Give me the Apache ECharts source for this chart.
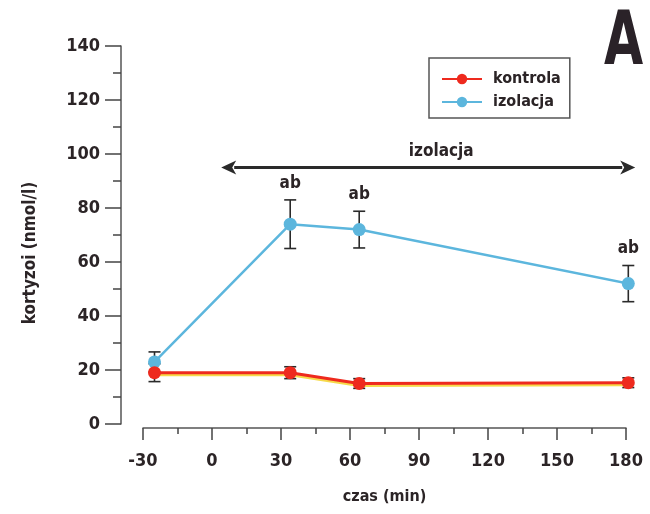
<!DOCTYPE html>
<html><head><meta charset="utf-8">
<script src="https://cdn.jsdelivr.net/npm/echarts@6/dist/echarts.min.js"></script>
<style>html,body{margin:0;padding:0;background:#fff}#c{width:650px;height:514px}</style>
</head><body><div id="c"></div>
<script>
// ---- data ----
const timeMin = [-25, 34, 64, 181];
const kontrolaMean = [19, 19, 15, 15.3];
const kontrolaErr = [3.3, 2.2, 1.8, 1.8];
const izolacjaMean = [23, 74, 72, 52];
const izolacjaErr = [3.7, 9, 6.8, 6.7];
const izolacjaSig = ['', 'ab', 'ab', 'ab'];
const xTickLabels = [-30, 0, 30, 60, 90, 120, 150, 180];
const yTickLabels = [0, 20, 40, 60, 80, 100, 120, 140];
const isolationPeriod = [4, 184];   // double arrow span (min)
const isolationArrowY = [95];
const isolationLabel = ['izolacja'];
const isolationLabelY = [101];

const FONT = "'Liberation Sans Narrow', 'DejaVu Sans Condensed', sans-serif";
const TXT = '#2b2426';
const RED = '#ee2a1e';
const BLUE = '#5cb6dd';

const chart = echarts.init(document.getElementById('c'), null, {renderer: 'canvas'});

function errPairs(mean, err) {
  return timeMin.map((t, i) => [t, mean[i] - err[i], mean[i] + err[i]]);
}
function makeErrRender(labels) {
  return function (params, api) {
    const x = api.value(0), lo = api.value(1), hi = api.value(2);
    const pLo = api.coord([x, lo]), pHi = api.coord([x, hi]);
    const w = 6;
    const st = {stroke: '#2a2a2a', lineWidth: 1.6};
    const ch = [
      {type: 'line', shape: {x1: pHi[0], y1: pHi[1], x2: pLo[0], y2: pLo[1]}, style: st},
      {type: 'line', shape: {x1: pHi[0] - w, y1: pHi[1], x2: pHi[0] + w, y2: pHi[1]}, style: st},
      {type: 'line', shape: {x1: pLo[0] - w, y1: pLo[1], x2: pLo[0] + w, y2: pLo[1]}, style: st}
    ];
    const lab = labels ? labels[params.dataIndex] : '';
    if (lab) {
      ch.push({type: 'text', x: pHi[0], y: pHi[1] - 8,
        style: {text: lab, align: 'center', verticalAlign: 'bottom',
          font: 'bold 17px ' + FONT, fill: TXT}});
    }
    return {type: 'group', children: ch};
  };
}
function arrowRender(params, api) {
  const a = api.coord([api.value(0), api.value(2)]);
  const b = api.coord([api.value(1), api.value(2)]);
  const lab = api.coord([(api.value(0) + api.value(1)) / 2, api.value(3)]);
  const hl = 15, hw = 7;
  const col = '#2a2a2a';
  return {type: 'group', children: [
    {type: 'line', shape: {x1: a[0] + hl - 2, y1: a[1], x2: b[0] - hl + 2, y2: b[1]}, style: {stroke: col, lineWidth: 3}},
    {type: 'polygon', shape: {points: [[a[0], a[1]], [a[0] + hl, a[1] - hw], [a[0] + hl - 4, a[1]], [a[0] + hl, a[1] + hw]]}, style: {fill: col}},
    {type: 'polygon', shape: {points: [[b[0], b[1]], [b[0] - hl, b[1] - hw], [b[0] - hl + 4, b[1]], [b[0] - hl, b[1] + hw]]}, style: {fill: col}},
    {type: 'text', x: lab[0] + 13, y: lab[1], style: {text: isolationLabel[params.dataIndex], align: 'center', verticalAlign: 'middle', font: 'bold 17px ' + FONT, fill: TXT}}
  ]};
}

const option = {
  backgroundColor: '#ffffff',
  animation: false,
  grid: {left: 143, right: 24, top: 46, bottom: 90},
  legend: {
    data: ['kontrola', 'izolacja'],
    orient: 'vertical',
    left: 429, top: 58,
    padding: [13, 9, 8, 12],
    borderColor: '#555', borderWidth: 1.5,
    itemWidth: 40, itemHeight: 13, itemGap: 7,
    textStyle: {fontFamily: FONT, fontWeight: 'bold', fontSize: 16, color: TXT, padding: [0, 0, 0, 6]}
  },
  xAxis: {
    type: 'value', min: -30, max: 180, interval: 30, offset: 4,
    name: 'czas (min)', nameLocation: 'middle', nameGap: 61,
    nameTextStyle: {fontFamily: FONT, fontWeight: 'bold', fontSize: 16, color: TXT},
    axisLine: {onZero: false, lineStyle: {color: '#555', width: 1.5}},
    axisTick: {show: true, length: 12, lineStyle: {color: '#444', width: 1.5}},
    minorTick: {show: true, splitNumber: 2, length: 6, lineStyle: {color: '#444', width: 1.5}},
    splitLine: {show: false},
    axisLabel: {margin: 24, fontFamily: FONT, fontWeight: 'bold', fontSize: 18, color: TXT,
      formatter: v => xTickLabels.includes(v) ? String(v) : ''}
  },
  yAxis: {
    type: 'value', min: 0, max: 140, interval: 20, offset: 22,
    name: 'kortyzoi (nmol/l)', nameLocation: 'middle', nameGap: 82,
    nameTextStyle: {fontFamily: FONT, fontWeight: 'bold', fontSize: 17, color: TXT, padding: [0, 36, 0, 0]},
    axisLine: {show: true, onZero: false, lineStyle: {color: '#555', width: 1.5}},
    axisTick: {show: true, length: 16, lineStyle: {color: '#444', width: 1.5}},
    minorTick: {show: true, splitNumber: 2, length: 8, lineStyle: {color: '#444', width: 1.5}},
    splitLine: {show: false},
    axisLabel: {margin: 21, fontFamily: FONT, fontWeight: 'bold', fontSize: 18, color: TXT,
      formatter: v => yTickLabels.includes(v) ? String(v) : ''}
  },
  graphic: [{
    type: 'text', x: 604, y: 8, scaleX: 0.76,
    style: {text: 'A', font: 'bold 74px ' + FONT, fill: '#2a2228'}
  }],
  series: [
    {
      type: 'custom', name: 'arrow', z: 1, clip: false, silent: true,
      renderItem: arrowRender,
      data: [[isolationPeriod[0], isolationPeriod[1], isolationArrowY[0], isolationLabelY[0]]]
    },
    {
      type: 'custom', name: 'errIzolacja', z: 1, clip: false,
      renderItem: makeErrRender(izolacjaSig),
      data: errPairs(izolacjaMean, izolacjaErr), silent: true
    },
    {
      type: 'custom', name: 'errKontrola', z: 1, clip: false,
      renderItem: makeErrRender(null),
      data: errPairs(kontrolaMean, kontrolaErr), silent: true
    },
    {
      name: 'izolacja', type: 'line', z: 3, clip: false,
      data: timeMin.map((t, i) => [t, izolacjaMean[i]]),
      symbol: 'circle', symbolSize: 13,
      lineStyle: {color: BLUE, width: 2.5},
      itemStyle: {color: BLUE}
    },
    {
      name: 'kontrola', type: 'line', z: 4, clip: false,
      data: timeMin.map((t, i) => [t, kontrolaMean[i]]),
      symbol: 'circle', symbolSize: 13,
      lineStyle: {color: RED, width: 3, shadowColor: '#f6da4a', shadowOffsetY: 2, shadowBlur: 0},
      itemStyle: {color: RED}
    }
  ]
};
chart.setOption(option);
</script>
</body></html>
